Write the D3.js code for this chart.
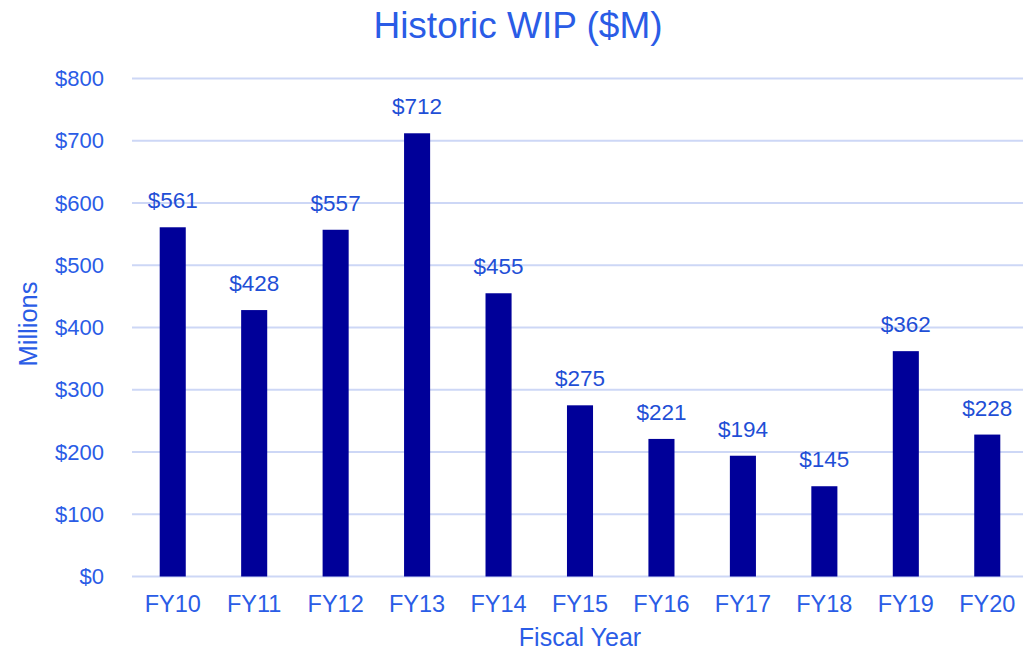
<!DOCTYPE html>
<html><head><meta charset="utf-8">
<script src="https://cdn.jsdelivr.net/npm/d3@7"></script>
<style>body{margin:0;background:#fff}svg{display:block}text{font-family:"Liberation Sans",Arial,sans-serif}</style>
</head><body>
<svg id="c" width="1023" height="652"></svg>
<script>
const categories = ["FY10","FY11","FY12","FY13","FY14","FY15","FY16","FY17","FY18","FY19","FY20"];
const values = [561,428,557,712,455,275,221,194,145,362,228];
const yTicks = [0,100,200,300,400,500,600,700,800];

const svg = d3.select("#c");
const x = d3.scaleBand().domain(categories).range([132,1028]).paddingInner(0.68).paddingOuter(0.34);
const y = d3.scaleLinear().domain([0,800]).range([576.5,78.5]);

svg.append("g").selectAll("line").data(yTicks).join("line")
  .attr("x1",132).attr("x2",1023).attr("y1",d=>y(d)).attr("y2",d=>y(d))
  .attr("stroke","#cdd7f6").attr("stroke-width",2);

svg.append("g").selectAll("text").data(yTicks).join("text")
  .attr("x",104).attr("y",d=>y(d)+7.5).attr("text-anchor","end")
  .attr("fill","#2a5ce6").attr("font-size",22).text(d=>"$"+d);

svg.append("g").selectAll("rect").data(values).join("rect")
  .attr("x",(d,i)=>x(categories[i])).attr("width",x.bandwidth())
  .attr("y",d=>y(d)).attr("height",d=>y(0)-y(d)).attr("fill","#000099");

svg.append("g").selectAll("text").data(values).join("text")
  .attr("x",(d,i)=>x(categories[i])+x.bandwidth()/2).attr("y",d=>y(d)-19)
  .attr("text-anchor","middle").attr("fill","#1f4fd6").attr("font-size",22.5).text(d=>"$"+d);

svg.append("g").selectAll("text").data(categories).join("text")
  .attr("x",d=>x(d)+x.bandwidth()/2).attr("y",612).attr("text-anchor","middle")
  .attr("fill","#2a5ce6").attr("font-size",23.5).text(d=>d);

svg.append("text").attr("x",518).attr("y",37.5).attr("text-anchor","middle")
  .attr("fill","#2a5ce6").attr("font-size",37).text("Historic WIP ($M)");
svg.append("text").attr("x",580).attr("y",646).attr("text-anchor","middle")
  .attr("fill","#2a5ce6").attr("font-size",25).text("Fiscal Year");
svg.append("text").attr("transform","translate(37,324) rotate(-90)").attr("text-anchor","middle")
  .attr("fill","#2a5ce6").attr("font-size",25.5).text("Millions");
</script>
</body></html>
